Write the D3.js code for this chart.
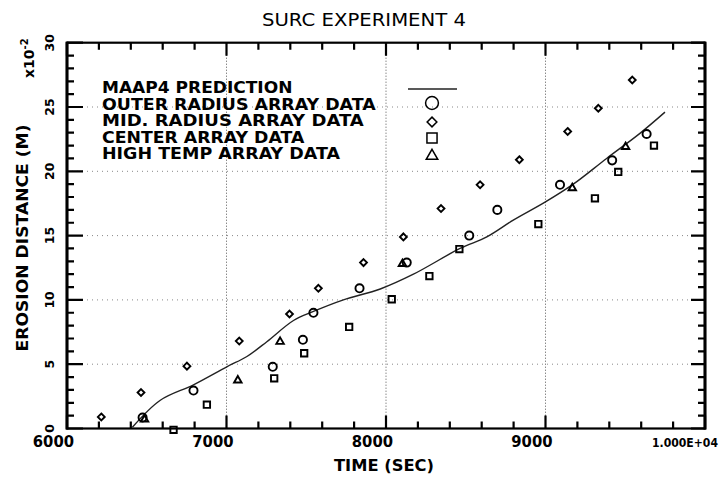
<!DOCTYPE html>
<html>
<head>
<meta charset="utf-8">
<script src="https://cdn.jsdelivr.net/npm/d3@7/dist/d3.min.js"></script>
<style>
  html, body { margin: 0; padding: 0; background: #fff; }
  svg { display: block; }
  text { font-family: "DejaVu Sans", "Liberation Sans", sans-serif; fill: #000; }
</style>
</head>
<body>
<svg id="chart" width="721" height="480"></svg>
<script>
// Erosion distance (x10^-2 m) versus time (s), SURC experiment 4
const predictionCurve = [
  [6410, 0.1], [6585, 2.2], [6793, 3.4], [7002, 4.8], [7128, 5.6], [7253, 6.75],
  [7420, 8.4], [7545, 9.1], [7733, 10.0], [7964, 10.85], [8172, 12.0], [8464, 14.0],
  [8632, 14.9], [8798, 16.2], [8997, 17.6], [9174, 19.0], [9383, 21.0], [9592, 22.95],
  [9749, 24.6]
];
const outerRadius = [
  [6474, 0.85], [6793, 2.95], [7290, 4.8], [7479, 6.9], [7545, 9.0], [7834, 10.9],
  [8130, 12.9], [8522, 15.0], [8698, 17.0], [9091, 18.95], [9418, 20.85], [9634, 22.9]
];
const midRadius = [
  [6215, 0.9], [6464, 2.8], [6752, 4.85], [7080, 6.8], [7395, 8.9], [7576, 10.9],
  [7859, 12.9], [8109, 14.9], [8345, 17.1], [8590, 18.95], [8836, 20.9], [9139, 23.1],
  [9331, 24.9], [9544, 27.1]
];
const centerArray = [
  [6668, -0.1], [6877, 1.85], [7299, 3.9], [7487, 5.85], [7769, 7.9], [8036, 10.05],
  [8272, 11.85], [8460, 13.95], [8955, 15.9], [9310, 17.9], [9456, 19.95], [9680, 22.0]
];
const highTemp = [
  [6486, 0.7], [7071, 3.75], [7336, 6.75], [8103, 12.8], [9168, 18.7], [9502, 21.9]
];
const legendLabels = [
  "MAAP4 PREDICTION", "OUTER RADIUS ARRAY DATA", "MID. RADIUS ARRAY DATA",
  "CENTER ARRAY DATA", "HIGH TEMP ARRAY DATA"
];
const xTickValues = [6000, 7000, 8000, 9000, 10000];
const xTickLabels = ["6000", "7000", "8000", "9000", "1.000E+04"];
const yTickValues = [0, 5, 10, 15, 20, 25, 30];
const yTickLabels = ["0", "5", "10", "15", "20", "25", "30"];

const svg = d3.select("#chart");
const L = 67, R = 705, T = 42.7, B = 428.5;

const x = d3.scaleLinear().domain([6000, 10000]).range([L, R]);
const y = d3.scaleLinear().domain([0, 30]).range([B, T]);

// dotted grid at the major ticks
const grid = svg.append("g");
grid.append("g").selectAll("line").data(xTickValues.slice(1, -1)).join("line")
  .attr("x1", d => x(d)).attr("x2", d => x(d)).attr("y1", T).attr("y2", B)
  .attr("stroke", "#555").attr("stroke-width", 1).attr("stroke-dasharray", "1,2");
grid.append("g").selectAll("line").data(yTickValues.slice(1, -1)).join("line")
  .attr("x1", L).attr("x2", R).attr("y1", d => y(d)).attr("y2", d => y(d))
  .attr("stroke", "#888").attr("stroke-width", 1).attr("stroke-dasharray", "1,4");

// tick labels
const lastX = xTickValues.length - 1;
svg.append("g").selectAll("text").data(xTickValues).join("text")
  .attr("x", (d, i) => i === lastX ? x(d) - 53 : x(d) + 7)
  .attr("y", 447)
  .attr("text-anchor", (d, i) => i === lastX ? "start" : "end")
  .attr("font-size", (d, i) => i === lastX ? 12 : 15).attr("font-weight", "bold")
  .attr("textLength", (d, i) => i === lastX ? 66 : xTickLabels[i].length * 10.3)
  .attr("lengthAdjust", "spacingAndGlyphs")
  .text((d, i) => xTickLabels[i]);

svg.append("g").selectAll("text").data(yTickValues).join("text")
  .attr("transform", d => `translate(54,${y(d)}) rotate(-90)`)
  .attr("text-anchor", "middle")
  .attr("font-size", 12.5).attr("font-weight", "bold")
  .text((d, i) => yTickLabels[i]);

// titles
svg.append("text").attr("x", 364).attr("y", 26).attr("text-anchor", "middle")
  .attr("font-size", 18).attr("textLength", 204).attr("lengthAdjust", "spacingAndGlyphs")
  .text("SURC EXPERIMENT 4");
svg.append("text").attr("x", 384).attr("y", 471).attr("text-anchor", "middle")
  .attr("font-size", 15).attr("font-weight", 600).attr("textLength", 100).attr("lengthAdjust", "spacingAndGlyphs")
  .text("TIME (SEC)");
svg.append("text").attr("transform", "translate(28,238) rotate(-90)").attr("text-anchor", "middle")
  .attr("font-size", 16).attr("font-weight", 600).attr("textLength", 227).attr("lengthAdjust", "spacingAndGlyphs")
  .text("EROSION DISTANCE (M)");
const sci = svg.append("text").attr("transform", "translate(34,78) rotate(-90)")
  .attr("font-size", 14).attr("font-weight", 600);
sci.append("tspan").text("x10");
sci.append("tspan").attr("dy", -6).attr("font-size", 10).text("-2");

// prediction curve
svg.append("path").datum(predictionCurve)
  .attr("d", d3.line().x(d => x(d[0])).y(d => y(d[1])).curve(d3.curveCatmullRom.alpha(0.5)))
  .attr("fill", "none").attr("stroke", "#222").attr("stroke-width", 1.4);

// markers
const sym = {
  circle: d3.symbol().type(d3.symbolCircle).size(52),
  diamond: d3.symbol().type(d3.symbolDiamond2).size(30),
  square: d3.symbol().type(d3.symbolSquare2).size(52),
  triangle: d3.symbol().type(d3.symbolTriangle2).size(40)
};
function drawSeries(data, gen) {
  svg.append("g").selectAll("path").data(data).join("path")
    .attr("transform", d => `translate(${x(d[0])},${y(d[1])})`)
    .attr("d", gen)
    .attr("fill", "none").attr("stroke", "#000").attr("stroke-width", 1.9);
}
drawSeries(outerRadius, sym.circle);
drawSeries(midRadius, sym.diamond);
drawSeries(centerArray, sym.square);
drawSeries(highTemp, sym.triangle);

// legend
const legend = svg.append("g");
legend.append("g").selectAll("text").data(legendLabels).join("text")
  .attr("x", 102).attr("y", (d, i) => 93 + i * 16.6)
  .attr("font-size", 15).attr("font-weight", "bold")
  .attr("textLength", d => d.length * 11.9).attr("lengthAdjust", "spacingAndGlyphs")
  .text(d => d);
legend.append("line").attr("x1", 408).attr("x2", 457).attr("y1", 89).attr("y2", 89)
  .attr("stroke", "#222").attr("stroke-width", 1.4);
const legendSyms = [
  d3.symbol().type(d3.symbolCircle).size(130),
  d3.symbol().type(d3.symbolDiamond2).size(60),
  d3.symbol().type(d3.symbolSquare2).size(130),
  d3.symbol().type(d3.symbolTriangle2).size(95)
];
legend.append("g").selectAll("path").data(legendSyms).join("path")
  .attr("transform", (d, i) => `translate(432,${[103, 122, 138, 156][i]})`)
  .attr("d", d => d())
  .attr("fill", "none").attr("stroke", "#000").attr("stroke-width", 1.5);

// frame
svg.append("rect").attr("x", L).attr("y", T).attr("width", R - L).attr("height", B - T)
  .attr("fill", "none").attr("stroke", "#000").attr("stroke-width", 2.2);
svg.append("path").attr("d", `M${L},${T - 1}V${B + 1}M${R},${T - 1}V${B + 1}`)
  .attr("fill", "none").attr("stroke", "#000").attr("stroke-width", 3);

// inward ticks on all four sides, drawn on top as one path
const xMinor = x.ticks(20).filter(v => v % 1000 !== 0);
const yMinor = y.ticks(30).filter(v => v % 5 !== 0);
const tickSegs = [];
xMinor.forEach(v => tickSegs.push(`M${x(v)},${B}v-7`, `M${x(v)},${T}v7`));
xTickValues.forEach(v => tickSegs.push(`M${x(v)},${B}v-13`, `M${x(v)},${T}v13`));
yMinor.forEach(v => tickSegs.push(`M${L},${y(v)}h7`, `M${R},${y(v)}h-7`));
yTickValues.forEach(v => tickSegs.push(`M${L},${y(v)}h16`, `M${R},${y(v)}h-14`));
svg.append("path").attr("d", tickSegs.join(""))
  .attr("fill", "none").attr("stroke", "#000").attr("stroke-width", 2.2);
</script>
</body>
</html>
